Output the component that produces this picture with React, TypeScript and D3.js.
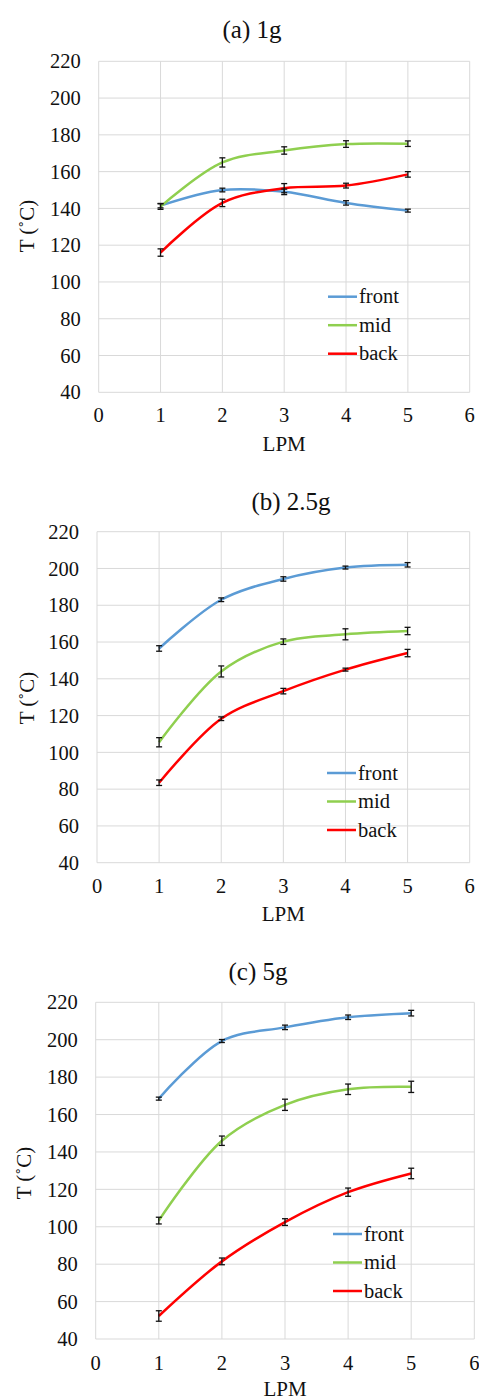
import React from "react";
import * as d3 from "d3";

const lpm = [1, 2, 3, 4, 5];
const xTicks = [0, 1, 2, 3, 4, 5, 6];
const yTicks = [40, 60, 80, 100, 120, 140, 160, 180, 200, 220];
const seriesNames = ["front", "mid", "back"];
const seriesColors = ["#5B9BD5", "#8FCF4F", "#FF0000"];
const titles = ["(a) 1g", "(b) 2.5g", "(c) 5g"];

const frontA = [141.5, 150, 149, 143, 138.8];
const midA = [141, 165, 171.5, 175, 175.2];
const backA = [116, 143, 151, 152.4, 158.5];
const frontAErr = [1.2, 1, 1.5, 1.2, 0.8];
const midAErr = [1.5, 2.5, 2, 1.8, 1.5];
const backAErr = [2, 2, 2.5, 1.3, 1.5];

const frontB = [156.5, 183, 194.3, 200.5, 202];
const midB = [105.5, 144, 160.2, 164.2, 166];
const backB = [83.5, 118.3, 133.3, 145, 154];
const frontBErr = [1.5, 1, 1.2, 0.8, 1.2];
const midBErr = [2.5, 3, 1.5, 3, 2];
const backBErr = [1.5, 1, 1.5, 0.8, 2];

const frontC = [168.5, 199.3, 206.6, 212, 214.2];
const midC = [103.3, 146, 165.2, 173.5, 174.8];
const backC = [52.3, 81.5, 102.5, 118.5, 128.5];
const frontCErr = [0.8, 0.8, 1.2, 1.2, 1.5];
const midCErr = [1.8, 2.5, 3, 2.8, 3];
const backCErr = [2.8, 1.8, 1.8, 2.2, 2.8];

const panelValues = [
  [frontA, midA, backA],
  [frontB, midB, backB],
  [frontC, midC, backC],
];
const panelErrors = [
  [frontAErr, midAErr, backAErr],
  [frontBErr, midBErr, backBErr],
  [frontCErr, midCErr, backCErr],
];

const layouts = [
  { left: 98.7, right: 469.7, top: 61.3, bottom: 392.3, titleX: 252, titleY: 38, tickY: 422, lpmY: 451, yTitleY: 226, yTitleX: 34, legX: 328, legY: 296.7 },
  { left: 97, right: 469.7, top: 531.7, bottom: 862.7, titleX: 291, titleY: 510, tickY: 893, lpmY: 921, yTitleY: 698, yTitleX: 34, legX: 327, legY: 773 },
  { left: 95.7, right: 474.3, top: 1002.3, bottom: 1339, titleX: 258, titleY: 980, tickY: 1370, lpmY: 1396, yTitleY: 1173, yTitleX: 31, legX: 333, legY: 1234 },
];

const FONT = "Liberation Serif, Tinos, Times New Roman, DejaVu Serif, Noto Serif, serif";

function Panel({ idx }: { idx: number }) {
  const L = layouts[idx];
  const x = d3.scaleLinear().domain([0, 6]).range([L.left, L.right]);
  const y = d3.scaleLinear().domain([40, 220]).range([L.bottom, L.top]);
  const line = d3
    .line<[number, number]>()
    .x((d) => x(d[0]))
    .y((d) => y(d[1]))
    .curve(d3.curveCatmullRom.alpha(0.5));
  const vals = panelValues[idx];
  const errs = panelErrors[idx];
  return (
    <g>
      <text x={L.titleX} y={L.titleY} fontSize={25} style={{ fontFamily: FONT }} textAnchor="middle" fill="#111">
        {titles[idx]}
      </text>
      {yTicks.map((t) => (
        <line key={"gy" + t} x1={L.left} x2={L.right} y1={y(t)} y2={y(t)} stroke="#d9d9d9" strokeWidth={1} />
      ))}
      {xTicks.map((t) => (
        <line key={"gx" + t} x1={x(t)} x2={x(t)} y1={L.top} y2={L.bottom} stroke="#d9d9d9" strokeWidth={1} />
      ))}
      {yTicks.map((t) => (
        <text key={"ty" + t} x={L.left - 18} y={y(t)} dy="0.35em" fontSize={20.5} style={{ fontFamily: FONT }} textAnchor="end" fill="#111">
          {t}
        </text>
      ))}
      {xTicks.map((t) => (
        <text key={"tx" + t} x={x(t)} y={L.tickY} fontSize={20.5} style={{ fontFamily: FONT }} textAnchor="middle" fill="#111">
          {t}
        </text>
      ))}
      <text x={(L.left + L.right) / 2} y={L.lpmY} fontSize={21} style={{ fontFamily: FONT }} textAnchor="middle" fill="#111">
        LPM
      </text>
      <text
        transform={`translate(${L.yTitleX},${L.yTitleY}) rotate(-90)`}
        fontSize={21}
        style={{ fontFamily: FONT }}
        textAnchor="middle"
        fill="#111"
      >
        T (˚C)
      </text>
      {vals.map((s, si) => (
        <path
          key={"l" + si}
          d={line(lpm.map((v, i) => [v, s[i]] as [number, number])) || ""}
          fill="none"
          stroke={seriesColors[si]}
          strokeWidth={2.5}
        />
      ))}
      {vals.map((s, si) =>
        s.map((v, i) => {
          const e = errs[si][i];
          const cx = x(lpm[i]);
          return (
            <g key={"e" + si + "-" + i} stroke="#111" strokeWidth={1.3}>
              <line x1={cx} x2={cx} y1={y(v + e)} y2={y(v - e)} />
              <line x1={cx - 3} x2={cx + 3} y1={y(v + e)} y2={y(v + e)} />
              <line x1={cx - 3} x2={cx + 3} y1={y(v - e)} y2={y(v - e)} />
            </g>
          );
        })
      )}
      {seriesNames.map((n, si) => (
        <g key={"leg" + si}>
          <line x1={L.legX} x2={L.legX + 29} y1={L.legY + si * 28.5} y2={L.legY + si * 28.5} stroke={seriesColors[si]} strokeWidth={2.5} />
          <text x={L.legX + 31} y={L.legY + si * 28.5} dy="0.33em" fontSize={20.5} style={{ fontFamily: FONT }} fill="#111">
            {n}
          </text>
        </g>
      ))}
    </g>
  );
}

export default function App() {
  return (
    <svg width={479} height={1400} style={{ position: "absolute", left: 0, top: 0, background: "#fff" }}>
      <rect x={0} y={0} width={479} height={1400} fill="#fff" />
      {[0, 1, 2].map((i) => (
        <Panel key={i} idx={i} />
      ))}
    </svg>
  );
}
